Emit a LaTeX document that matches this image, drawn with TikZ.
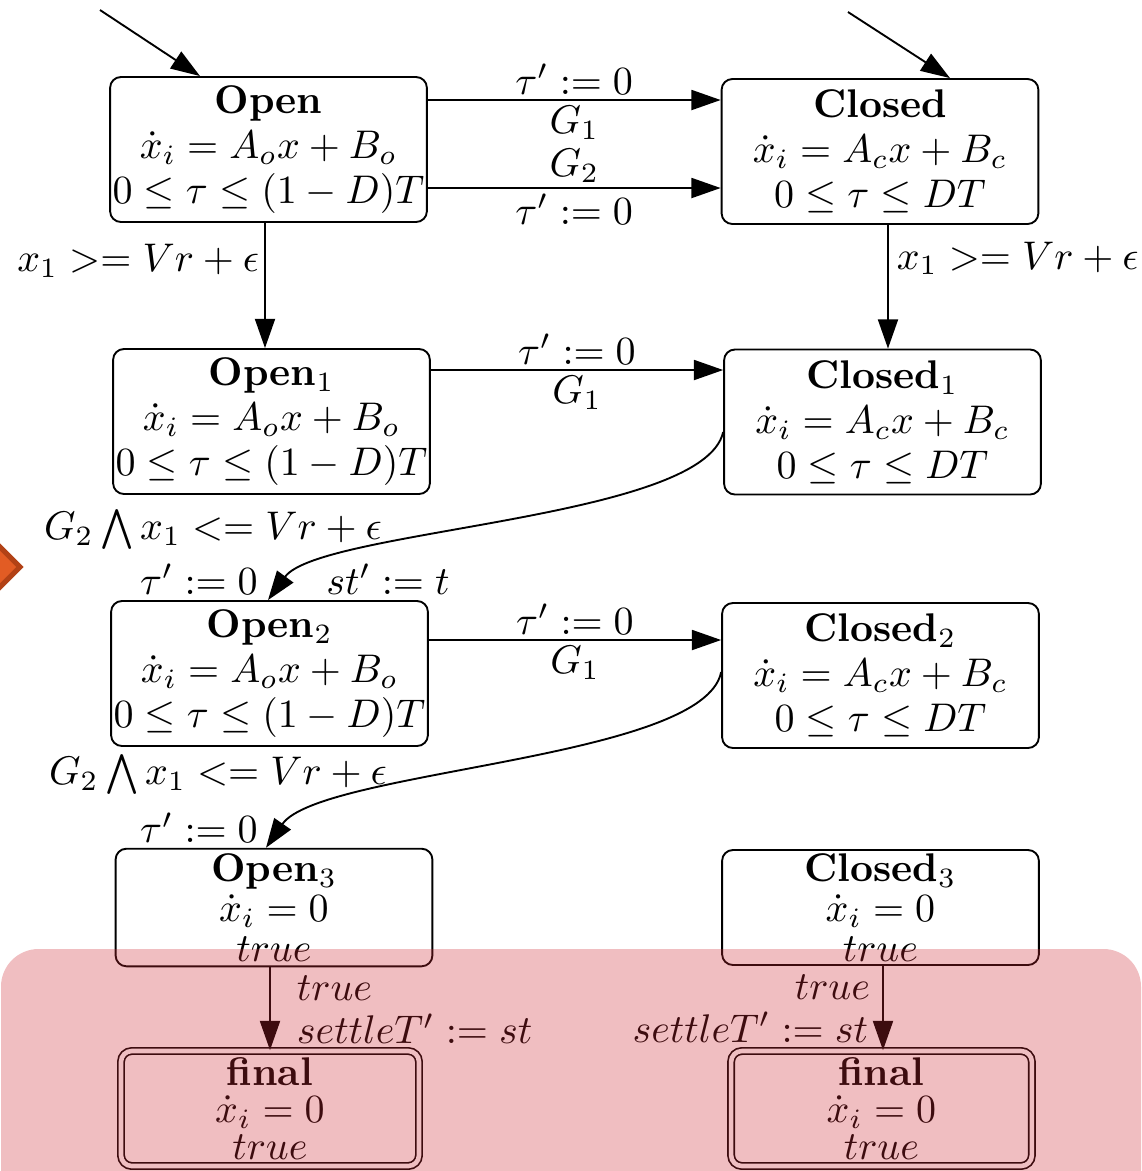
\documentclass[tikz,border=0pt]{standalone}
\usetikzlibrary{arrows.meta}
\definecolor{pinkc}{RGB}{205,40,50}
\definecolor{orfill}{RGB}{226,92,36}
\definecolor{ordraw}{RGB}{178,66,22}
\begin{document}
\begin{tikzpicture}[x=0.25pt,y=-0.25pt,
  every node/.style={font=\fontsize{10}{11.25}\selectfont},
  state/.style={draw, rounded corners=2.7pt, line width=0.47pt, align=center, inner sep=0pt,
                minimum width=79.2pt, minimum height=36.25pt},
  lowstate/.style={state, minimum height=29.4pt, font=\fontsize{10}{10}\selectfont},
  finalstate/.style={draw, double, double distance=1.15pt, line width=0.42pt, rounded corners=2.7pt,
                align=center, inner sep=0pt, minimum width=74.5pt, minimum height=28.75pt,
                font=\fontsize{10}{9.3}\selectfont},
  arr/.style={-{Triangle[length=7.3pt,width=5pt]}, line width=0.47pt},
  lab/.style={inner sep=1.25pt},
]
\clip (0,0) rectangle (1142,1171);

% states
\node[state] (open) at (268.5,149.5) {\textbf{Open}\\ $\dot{x}_i = A_o x + B_o$\\ $0 \le \tau \le (1-D)T$};
\node[state] (closed) at (880,151.5) {\textbf{Closed}\\ $\dot{x}_i = A_c x + B_c$\\ $0 \le \tau \le DT$};
\node[state] (open1) at (271.5,421.5) {\textbf{Open$_1$}\\ $\dot{x}_i = A_o x + B_o$\\ $0 \le \tau \le (1-D)T$};
\node[state] (closed1) at (882.5,422) {\textbf{Closed$_1$}\\ $\dot{x}_i = A_c x + B_c$\\ $0 \le \tau \le DT$};
\node[state] (open2) at (269.5,673.5) {\textbf{Open$_2$}\\ $\dot{x}_i = A_o x + B_o$\\ $0 \le \tau \le (1-D)T$};
\node[state] (closed2) at (880.5,675.5) {\textbf{Closed$_2$}\\ $\dot{x}_i = A_c x + B_c$\\ $0 \le \tau \le DT$};
\node[lowstate] (open3) at (274,907.5) {\textbf{Open$_3$}\\ $\dot{x}_i = 0$\\ $true$};
\node[lowstate, minimum height=28.75pt] (closed3) at (880.5,907.5) {\textbf{Closed$_3$}\\ $\dot{x}_i = 0$\\ $true$};
\node[finalstate] (finL) at (270,1108.5) {\textbf{final}\\ $\dot{x}_i = 0$\\ $true$};
\node[finalstate, minimum width=75.2pt] (finR) at (881.5,1108.5) {\textbf{final}\\ $\dot{x}_i = 0$\\ $true$};

% helper coordinates
\coordinate (i1) at (100,10);
\coordinate (i2) at (848,12);
\coordinate (x1) at (200,0);
\coordinate (x2) at (950,0);
\coordinate (h1) at (0,100);
\coordinate (h2) at (0,188);
\coordinate (h3) at (0,370);
\coordinate (h4) at (0,640);
\coordinate (v1) at (265,0);
\coordinate (v2) at (888,0);
\coordinate (v3) at (270,0);
\coordinate (v4) at (883,0);
\coordinate (y1) at (0,432);
\coordinate (y2) at (0,672);
\coordinate (e1) at (268,0);
\coordinate (e2) at (266,0);

% initial arrows
\draw[arr] (i1) -- (open.north -| x1);
\draw[arr] (i2) -- (closed.north -| x2);

% horizontal transitions
\draw[arr] (open.east |- h1) -- node[above,lab]{$\tau' := 0$} node[below,lab]{$G_1$} (closed.west |- h1);
\draw[arr] (open.east |- h2) -- node[above,lab]{$G_2$} node[below,lab]{$\tau' := 0$} (closed.west |- h2);
\draw[arr] (open1.east |- h3) -- node[above,lab]{$\tau' := 0$} node[below,lab]{$G_1$} (closed1.west |- h3);
\draw[arr] (open2.east |- h4) -- node[above,lab]{$\tau' := 0$} node[below,lab]{$G_1$} (closed2.west |- h4);

% vertical transitions
\draw[arr] (open.south -| v1) -- node[left,lab,pos=0.3]{$x_1 >= Vr + \epsilon$} (open1.north -| v1);
\draw[arr] (closed.south -| v2) -- node[right,inner sep=2pt,pos=0.27]{$x_1 >= Vr + \epsilon$} (closed1.north -| v2);

% curved transitions
\draw[arr] (closed1.west |- y1) .. controls +(-19,88) and +(52,-71) .. (open2.north -| e1)
  node[at end, shift={(-55,-71)}] {$G_2 \bigwedge x_1 <= Vr + \epsilon$}
  node[at end, shift={(-69,-21)}] {$\tau' := 0$}
  node[at end, shift={(120,-21)}] {$st' := t$};
\draw[arr] (closed2.west |- y2) .. controls +(-17,88) and +(54,-78) .. (open3.north -| e2)
  node[at end, shift={(-48,-73)}] {$G_2 \bigwedge x_1 <= Vr + \epsilon$}
  node[at end, shift={(-67,-20)}] {$\tau' := 0$};

% to final states
\draw[arr] (open3.south -| v3) -- node[right,inner sep=6.5pt,pos=0.25]{$true$} node[right,inner sep=6.5pt,pos=0.74]{$settleT' := st$} (finL.north -| v3);
\draw[arr] (closed3.south -| v4) -- node[left,inner sep=3pt,pos=0.25]{$true$} node[left,inner sep=3.5pt,pos=0.73]{$settleT' := st$} (finR.north -| v4);

% overlay shapes
\filldraw[fill=orfill, draw=ordraw, line width=1.25pt] (20,567) -- (-10,537) -- (-40,567) -- (-10,597) -- cycle;
\fill[pinkc, fill opacity=0.3, rounded corners=9.4pt] (1,949) rectangle (1141,1260);
\end{tikzpicture}
\end{document}
